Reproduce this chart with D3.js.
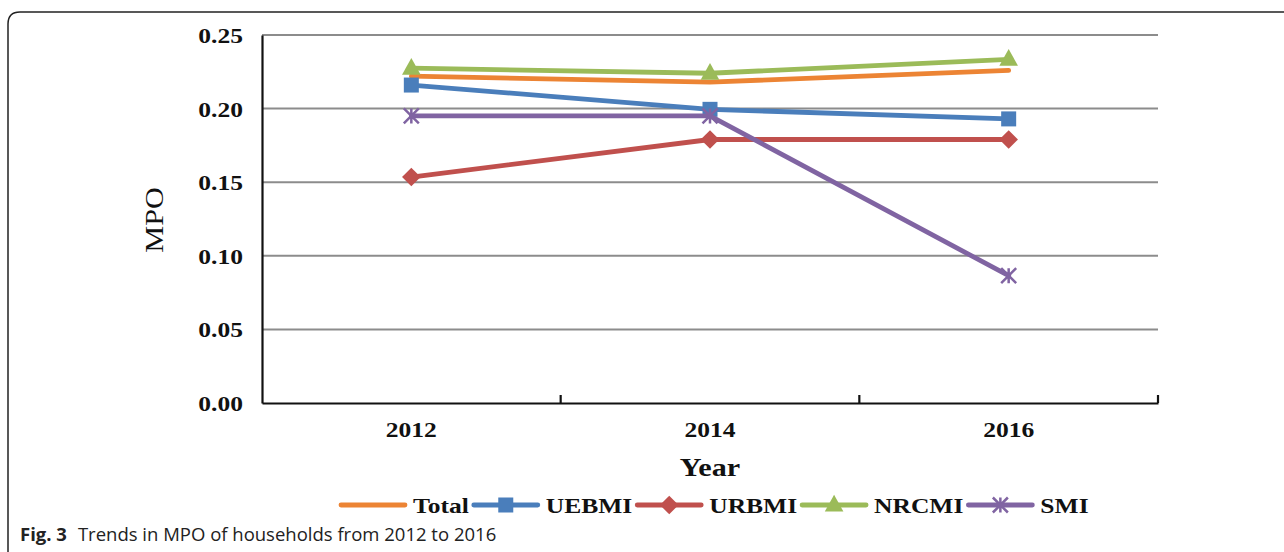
<!DOCTYPE html>
<html>
<head>
<meta charset="utf-8">
<script src="https://cdn.jsdelivr.net/npm/d3@7"></script>
<style>
  body { margin: 0; background: #fff; }
  svg { display: block; }
  .serif { font-family: "Liberation Serif", "DejaVu Serif", serif; }
</style>
</head>
<body>
<svg id="chart" width="1284" height="552"></svg>
<script>
// data
const years = ["2012", "2014", "2016"];
const yTicks = [0, 0.05, 0.10, 0.15, 0.20, 0.25];
const seriesNames = ["Total", "UEBMI", "URBMI", "NRCMI", "SMI"];
const total = [0.222, 0.218, 0.226];
const uebmi = [0.216, 0.1995, 0.193];
const urbmi = [0.1535, 0.179, 0.179];
const nrcmi = [0.2275, 0.224, 0.2335];
const smi = [0.195, 0.195, 0.0865];

const colors = {
  Total: "#ec8434",
  UEBMI: "#4a7ebb",
  URBMI: "#c0504d",
  NRCMI: "#9bbb59",
  SMI: "#8064a2",
};
const markers = { Total: "none", UEBMI: "square", URBMI: "diamond", NRCMI: "triangle", SMI: "star" };
const values = { Total: total, UEBMI: uebmi, URBMI: urbmi, NRCMI: nrcmi, SMI: smi };

const svg = d3.select("#chart");
const plot = { left: 262, right: 1158, top: 35, bottom: 403 };
const stretch = 1.16; // source text is a bit wider than the font

// frame around the figure
svg.append("path")
  .attr("d", "M8,552 L8,24 Q8,12 20,12 L1284,12")
  .attr("fill", "none")
  .attr("stroke", "#222")
  .attr("stroke-width", 1.5);

const x = d3.scaleBand().domain(years).range([plot.left, plot.right]);
const y = d3.scaleLinear().domain([0, 0.25]).range([plot.bottom, plot.top]);

// helper for horizontally stretched text
function label(g, px, py, txt, size, weight, anchor) {
  return g.append("text")
    .attr("class", "serif")
    .attr("transform", `translate(${px},${py}) scale(${stretch},1)`)
    .attr("text-anchor", anchor)
    .style("font-size", size + "px")
    .style("font-weight", weight)
    .attr("fill", "#111")
    .text(txt);
}

// gridlines
svg.append("g")
  .selectAll("line")
  .data(yTicks.filter((d) => d > 0))
  .join("line")
  .attr("x1", plot.left)
  .attr("x2", plot.right)
  .attr("y1", (d) => y(d))
  .attr("y2", (d) => y(d))
  .attr("stroke", "#8c8c8c")
  .attr("stroke-width", 2);

// y axis
const yAxis = svg.append("g").attr("transform", `translate(${plot.left},0)`)
  .call(d3.axisLeft(y).tickValues(yTicks).tickSize(0).tickFormat(""));
yAxis.select(".domain").attr("stroke", "#111").attr("stroke-width", 2.2);
yTicks.forEach((t) => {
  label(svg, 243, y(t) + 8, d3.format(".2f")(t), 22, "bold", "end");
});

// x axis, ticks point inward at the band edges
const edges = years.map((d) => x(d) + x.bandwidth());
const xAxis = svg.append("g").attr("transform", `translate(0,${plot.bottom})`)
  .call(d3.axisBottom(x).tickSize(0).tickFormat(""));
xAxis.select(".domain").attr("stroke", "#111").attr("stroke-width", 2.2);
xAxis.selectAll("line.edge")
  .data(edges)
  .join("line")
  .attr("class", "edge")
  .attr("x1", (d) => d)
  .attr("x2", (d) => d)
  .attr("y1", 0)
  .attr("y2", -8)
  .attr("stroke", "#111")
  .attr("stroke-width", 2.2);
years.forEach((yr) => {
  label(svg, x(yr) + x.bandwidth() / 2, 437, yr, 22, "bold", "middle");
});

// axis titles
label(svg, 710, 476, "Year", 26, "bold", "middle");
svg.append("text")
  .attr("class", "serif")
  .attr("transform", `translate(163,220) rotate(-90) scale(${stretch},1)`)
  .attr("text-anchor", "middle")
  .style("font-size", "26px")
  .attr("fill", "#111")
  .text("MPO");

// marker drawing
function drawMarker(g, kind, color, cx, cy, s) {
  if (kind === "square") {
    g.append("rect")
      .attr("x", cx - s / 2).attr("y", cy - s / 2)
      .attr("width", s).attr("height", s)
      .attr("fill", color);
  } else if (kind === "diamond") {
    const r = s * 0.62;
    g.append("path")
      .attr("d", `M${cx},${cy - r}L${cx + r},${cy}L${cx},${cy + r}L${cx - r},${cy}Z`)
      .attr("fill", color);
  } else if (kind === "triangle") {
    const r = s * 0.62;
    g.append("path")
      .attr("d", `M${cx},${cy - r * 1.1}L${cx + r},${cy + r * 0.7}L${cx - r},${cy + r * 0.7}Z`)
      .attr("fill", color);
  } else if (kind === "star") {
    const r = s / 2;
    g.append("path")
      .attr("d", `M${cx - r},${cy - r}L${cx + r},${cy + r}M${cx - r},${cy + r}L${cx + r},${cy - r}M${cx},${cy - r}L${cx},${cy + r}`)
      .attr("stroke", color)
      .attr("stroke-width", 2.5)
      .attr("fill", "none");
  }
}

// series lines
const line = d3.line()
  .x((d, i) => x(years[i]) + x.bandwidth() / 2)
  .y((d) => y(d));

seriesNames.forEach((name) => {
  const g = svg.append("g");
  g.append("path")
    .datum(values[name])
    .attr("d", line)
    .attr("fill", "none")
    .attr("stroke", colors[name])
    .attr("stroke-width", 4.8)
    .attr("stroke-linecap", "round");
  values[name].forEach((v, i) => {
    drawMarker(g, markers[name], colors[name], x(years[i]) + x.bandwidth() / 2, y(v), 15);
  });
});

// legend
const legend = svg.append("g");
let lx = 341;
const ly = 505;
seriesNames.forEach((name) => {
  legend.append("line")
    .attr("x1", lx).attr("x2", lx + 64)
    .attr("y1", ly).attr("y2", ly)
    .attr("stroke", colors[name])
    .attr("stroke-width", 4.8)
    .attr("stroke-linecap", "round");
  drawMarker(legend, markers[name], colors[name], lx + 32, ly, 15);
  const t = label(legend, lx + 72, ly + 8, name, 22, "bold", "start");
  lx += 72 + t.node().getComputedTextLength() * stretch + 5;
});

// caption
const cap = svg.append("text")
  .attr("x", 20)
  .attr("y", 541)
  .style("font-family", "'Open Sans', 'Noto Sans', sans-serif")
  .style("font-size", "18.5px")
  .attr("fill", "#222");
cap.append("tspan").style("font-weight", "bold").text("Fig. 3");
cap.append("tspan").attr("dx", 11).text("Trends in MPO of households from 2012 to 2016");
</script>
</body>
</html>
